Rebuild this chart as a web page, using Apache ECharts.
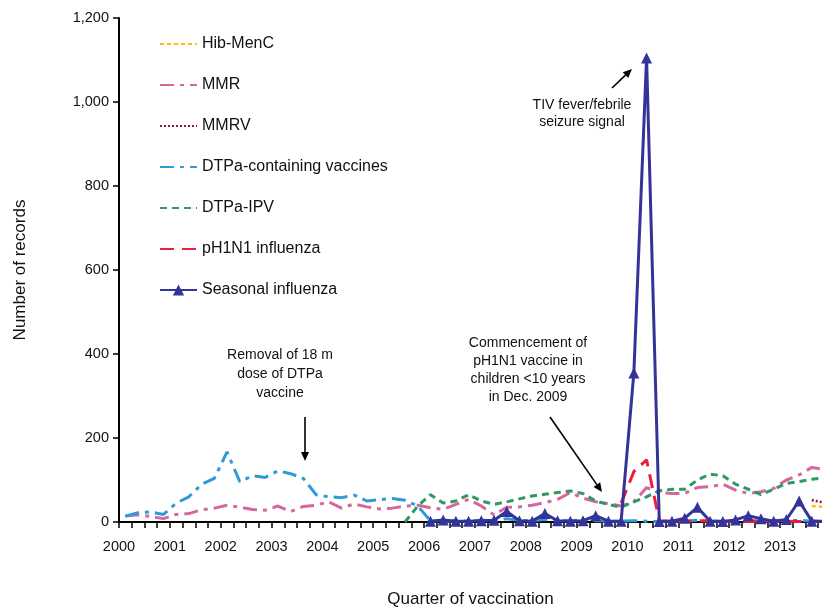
<!DOCTYPE html>
<html>
<head>
<meta charset="utf-8">
<script src="https://cdn.jsdelivr.net/npm/echarts@6/dist/echarts.min.js"></script>
<style>
  html, body { margin: 0; padding: 0; background: #fff; }
  #chart { width: 822px; height: 610px; }
</style>
</head>
<body>
<div id="chart"></div>
<script>
// year tick labels, one per 4 quarters
const years = ['2000', '2001', '2002', '2003', '2004', '2005', '2006',
  '2007', '2008', '2009', '2010', '2011', '2012', '2013'];
const quarters = [];
years.forEach(y => ['Q1', 'Q2', 'Q3', 'Q4'].forEach(q => quarters.push(y + ' ' + q)));

// each series: index of its first quarter + values
const hibMenCStart = 54;
const hibMenC = [38, 36];

const mmrStart = 0;
const mmr = [14, 17, 13, 8, 18, 20, 29, 33, 40, 35, 30, 28, 38, 25, 37, 40,
  48, 33, 43, 36, 31, 33, 38, 40, 34, 30, 42, 54, 38, 17, 35, 36,
  40, 46, 54, 70, 57, 48, 44, 38, 48, 82, 70, 68, 68, 82, 84, 90,
  76, 68, 72, 80, 100, 112, 130, 125];

const mmrvStart = 54;
const mmrv = [52, 46];

const dtpaStart = 0;
const dtpa = [14, 22, 24, 18, 45, 60, 90, 104, 167, 96, 110, 106, 122, 115, 104, 65,
  60, 58, 64, 50, 53, 56, 52, 38, 3, 2, 3, 2, 4, 3, 8, 4,
  3, 6, 4, 3, 5, 3, 2, 2, 3, 2, 1, 3, 2, 4, 3, 2,
  2, 3, 2, 4, 3, 4, 2, 2];

const dtpaIpvStart = 22;
const dtpaIpv = [0, 38, 65, 45, 50, 65, 50, 42, 48, 55, 62, 66, 70, 74, 68, 50,
  42, 35, 48, 60, 74, 78, 78, 100, 114, 110, 90, 78, 65, 78, 92, 96,
  102, 105];

const h1n1Start = 39;
const h1n1 = [45, 120, 148, 3, 2, 1, 3, 2, 1, 2, 1, 3, 1, 2, 1, 2, 1];

const fluStart = 24;
const flu = [2, 5, 2, 2, 3, 4, 25, 3, 2, 20, 3, 2, 3, 15, 2, 2,
  355, 1105, 1, 2, 9, 35, 2, 1, 5, 15, 8, 2, 6, 50, 2, 2];

const yTicks = [0, 200, 400, 600, 800, 1000, 1200];

const FONT = '"Liberation Sans", Arial, Helvetica, sans-serif';

// points sit in the middle of their quarter; ticks mark quarter boundaries
function toPoints(start, vals) {
  return vals.map((v, i) => [start + i + 0.5, v]);
}

function arrow(x1, y1, x2, y2) {
  const ang = Math.atan2(y2 - y1, x2 - x1);
  const len = 9, half = 4;
  const bx = x2 - len * Math.cos(ang), by = y2 - len * Math.sin(ang);
  const px = -Math.sin(ang) * half, py = Math.cos(ang) * half;
  return [
    { type: 'line', shape: { x1: x1, y1: y1, x2: bx, y2: by },
      style: { stroke: '#000', lineWidth: 1.6 } },
    { type: 'polygon', shape: { points: [[x2, y2], [bx + px, by + py], [bx - px, by - py]] },
      style: { fill: '#000' } }
  ];
}

function note(x, y, text, lh) {
  return {
    type: 'text',
    style: {
      x: x, y: y, text: text,
      align: 'center', verticalAlign: 'top', lineHeight: lh,
      font: '14px ' + FONT, fill: '#111'
    }
  };
}

const chart = echarts.init(document.getElementById('chart'));

function lineSeries(name, start, vals, color, dash, width) {
  return {
    name: name,
    type: 'line',
    data: toPoints(start, vals),
    symbol: 'none',
    showSymbol: false,
    lineStyle: { color: color, width: width, type: dash },
    itemStyle: { color: color },
    animation: false
  };
}

// no marker in the legend for the plain line series
const noMark = { opacity: 0 };

chart.setOption({
  animation: false,
  textStyle: { fontFamily: FONT },
  grid: { left: 119, right: 0, top: 18, bottom: 88, containLabel: false, outerBoundsMode: 'none' },
  legend: {
    orient: 'vertical',
    left: 154,
    top: 31,
    itemWidth: 37,
    itemHeight: 14,
    itemGap: 25,
    textStyle: { fontSize: 16, color: '#111', fontFamily: FONT },
    data: [
      { name: 'Hib-MenC', itemStyle: noMark },
      { name: 'MMR', itemStyle: noMark },
      { name: 'MMRV', itemStyle: noMark },
      { name: 'DTPa-containing vaccines', itemStyle: noMark },
      { name: 'DTPa-IPV', itemStyle: noMark },
      { name: 'pH1N1 influenza', itemStyle: noMark },
      { name: 'Seasonal influenza' }
    ]
  },
  xAxis: {
    type: 'value',
    min: 0,
    max: 55.3,
    interval: 1,
    name: 'Quarter of vaccination',
    nameLocation: 'middle',
    nameGap: 69,
    nameTextStyle: { fontSize: 17, color: '#111' },
    axisLine: { show: true, onZero: false, lineStyle: { color: '#000', width: 2 } },
    axisTick: { show: true, inside: false, length: 6, lineStyle: { color: '#000', width: 1.5 } },
    axisLabel: {
      fontSize: 14.5, color: '#111', margin: 17, showMaxLabel: false,
      formatter: v => (v % 4 === 0 && years[v / 4]) ? years[v / 4] : ''
    },
    splitLine: { show: false }
  },
  yAxis: {
    type: 'value',
    min: yTicks[0],
    max: yTicks[yTicks.length - 1],
    interval: 200,
    name: 'Number of records',
    nameLocation: 'middle',
    nameGap: 90,
    nameTextStyle: { fontSize: 17, color: '#111' },
    axisLine: { show: true, lineStyle: { color: '#000', width: 2 } },
    axisTick: { show: true, inside: false, length: 6, lineStyle: { color: '#000', width: 1.5 } },
    axisLabel: {
      fontSize: 14.5, color: '#111', margin: 10,
      formatter: v => v.toLocaleString('en-US')
    },
    splitLine: { show: false }
  },
  series: [
    lineSeries('Hib-MenC', hibMenCStart, hibMenC, '#FDC010', [4, 3], 2.5),
    lineSeries('MMR', mmrStart, mmr, '#D5679F', [14, 6, 4, 6], 3),
    lineSeries('MMRV', mmrvStart, mmrv, '#8E1B3C', [2, 2], 2.5),
    lineSeries('DTPa-containing vaccines', dtpaStart, dtpa, '#2E9BD6', [14, 6, 4, 6], 3),
    lineSeries('DTPa-IPV', dtpaIpvStart, dtpaIpv, '#2F9A5E', [7, 5], 3),
    lineSeries('pH1N1 influenza', h1n1Start, h1n1, '#EE1D3B', [14, 8], 3),
    {
      name: 'Seasonal influenza',
      type: 'line',
      data: toPoints(fluStart, flu),
      symbol: 'triangle',
      symbolSize: 11,
      showSymbol: true,
      lineStyle: { color: '#333399', width: 3 },
      itemStyle: { color: '#333399' },
      z: 5,
      animation: false
    }
  ],
  graphic: [
    note(280, 346, 'Removal of 18 m\ndose of DTPa\nvaccine', 19),
    note(528, 334, 'Commencement of\npH1N1 vaccine in\nchildren <10 years\nin Dec. 2009', 18),
    note(582, 97, 'TIV fever/febrile\nseizure signal', 17)
  ].concat(arrow(305, 417, 305, 461), arrow(550, 417, 602, 492), arrow(612, 88, 632, 69))
});
</script>
</body>
</html>
